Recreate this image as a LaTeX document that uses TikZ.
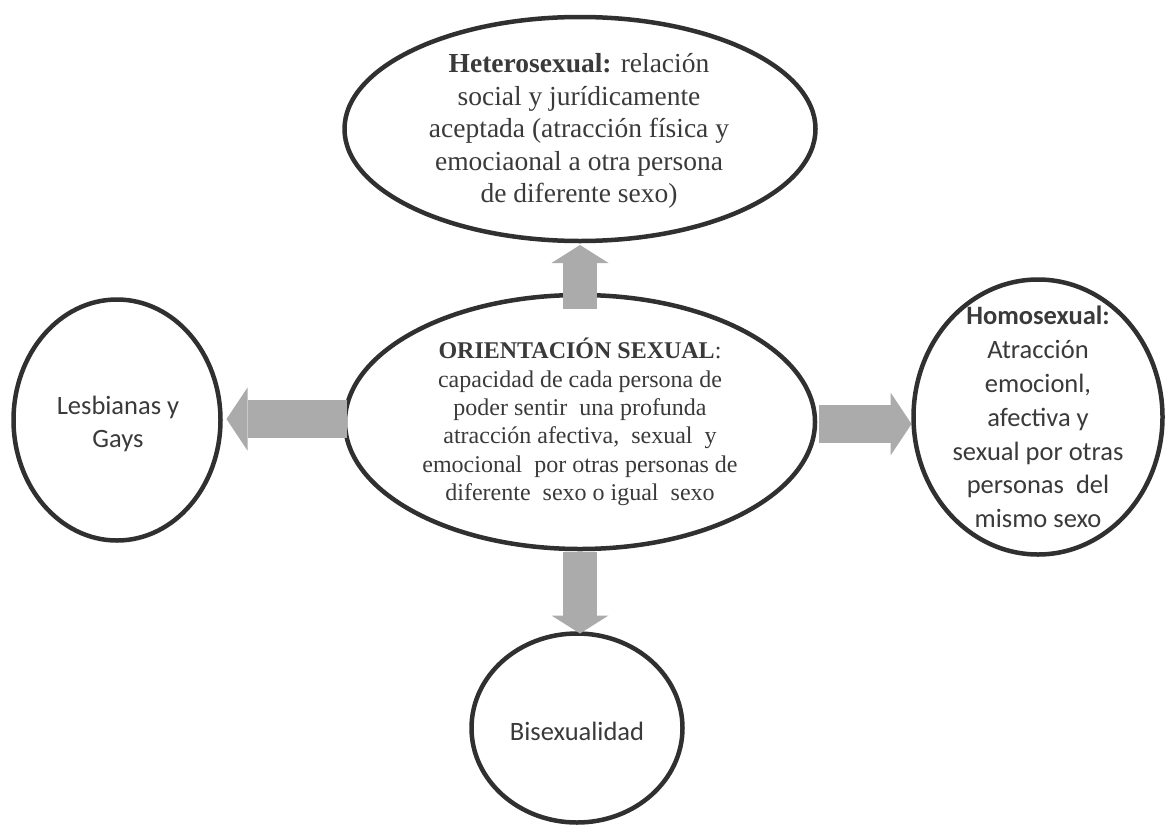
\documentclass[tikz,border=0pt]{standalone}
\usepackage{fontspec}
\setmainfont{Liberation Serif}
\newfontfamily\calfont{Carlito}
\usetikzlibrary{shapes.geometric,arrows.meta}
\definecolor{txt}{HTML}{3A3A3A}
\definecolor{edge}{HTML}{303030}
\definecolor{arr}{HTML}{ABABAB}
\begin{document}
\begin{tikzpicture}[x=1pt,y=-1pt,
  shapebox/.style={ellipse, draw=edge, line width=4.5pt, fill=white, inner sep=0pt, outer sep=0pt},
  serifbig/.style={text=txt, align=center, inner sep=0pt, font=\fontsize{27.5}{32.5}\selectfont},
  serifsm/.style={text=txt, align=center, inner sep=0pt, font=\fontsize{24}{28.4}\selectfont},
  sanstext/.style={text=txt, align=center, inner sep=0pt, font=\calfont\fontsize{26.5}{33.8}\selectfont},
  varrow/.style={draw=arr, line width=34pt, -{Triangle[width=57pt,length=18pt,line width=0pt,fill=arr]}},
  harrow/.style={draw=arr, line width=38pt, -{Triangle[width=63pt,length=21pt,line width=0pt,fill=arr]}}]
\useasboundingbox (0,0) rectangle (1166,827);
\fill[white] (0,0) rectangle (1166,827);
% shapes
\node[shapebox, minimum width=471pt, minimum height=224pt] (hetero) at (580,129) {};
\node[shapebox, minimum width=470pt, minimum height=254pt] (core) at (580,422) {};
\node[shapebox, minimum width=207pt, minimum height=241pt] (lesb) at (117,420) {};
\node[shapebox, minimum width=249pt, minimum height=275pt] (homo) at (1038,417) {};
\node[shapebox, minimum width=211pt, minimum height=189pt] (bi) at (577,728) {};
% texts
\node[serifbig] (heterotext) at (579,131) {\textbf{Heterosexual:} relación\\ social y jurídicamente\\ aceptada (atracción física y\\ emociaonal a otra persona\\ de diferente sexo)};
\node[serifsm] (coretext) at (580,422) {\textbf{ORIENTACIÓN SEXUAL}:\\ capacidad de cada persona de\\ poder sentir\ \ una profunda\\ atracción afectiva,\ \ sexual\ \ y\\ emocional\ \ por otras personas de\\ diferente\ \ sexo o igual\ \ sexo};
\node[sanstext] (lesbtext) at (118,424) {Lesbianas y\\ Gays};
\node[sanstext] (homotext) at (1038,417) {\textbf{Homosexual:}\\ Atracción\\ emocionl,\\ afectiva y\\ sexual por otras\\ personas\ \ del\\ mismo sexo};
\node[sanstext, anchor=base] (bitext) at (577,740) {Bisexualidad};
% arrows
\draw[varrow] ([yshift=-14pt]core.north) -- ([yshift=-4pt]hetero.south);
\draw[varrow] ([yshift=-3pt]core.south) -- (core.south |- bi.north);
\draw[harrow] ([xshift=2pt,yshift=3pt]core.west) -- ([xshift=6pt,yshift=3pt]core.west -| lesb.east);
\draw[harrow] ([xshift=4pt,yshift=-2pt]core.east) -- ([xshift=-2pt,yshift=-2pt]core.east -| homo.west);
\end{tikzpicture}
\end{document}
